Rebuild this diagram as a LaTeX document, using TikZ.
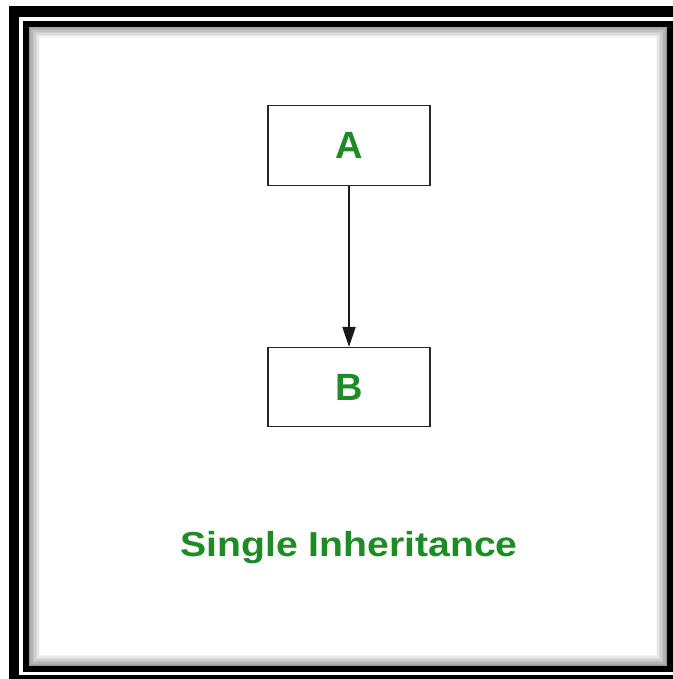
\documentclass[tikz,border=0pt]{standalone}
\usepackage{fontspec}
\setmainfont{Liberation Sans}
\newfontfamily\captionfont[FakeStretch=1.13]{Liberation Sans}
\usetikzlibrary{arrows.meta, positioning}
\definecolor{labelgreen}{HTML}{1E8B24}

\begin{document}
\begin{tikzpicture}[
    x=0.75pt, y=-0.75pt,
    node distance=120.75pt,
    >={Triangle[length=15pt, width=10pt]},
    % --- node styles ---
    classbox/.style={
        rectangle, draw=black!85, line width=0.9pt,
        minimum width=121.5pt, minimum height=59.5pt,
        fill=white, text=labelgreen, font=\fontsize{28.5}{32}\selectfont\bfseries
    },
    caption/.style={
        text=labelgreen, font=\captionfont\fontsize{26}{30}\selectfont\bfseries, inner sep=0pt
    },
    arrow/.style={->, line width=0.9pt, color=black!90},
]

% ===== CANVAS =====
\useasboundingbox (0,0) rectangle (673,679);
\clip (0,0) rectangle (673,679);
\fill[white] (0,0) rectangle (673,679);

% outer frame
\draw[line width=7.9pt] (14,11.5) rectangle (690,680.5);

% inner frame with soft shadow
\fill[white] (19.5,17) rectangle (673,675);
\foreach \i in {1,...,8}
    \draw[black!\the\numexpr 44-5*\i\relax, line width=1.2pt] (27.5+1.5*\i,25+1.5*\i) rectangle (668.5-1.5*\i,667.5-1.5*\i);
\draw[line width=4.5pt] (26,23.5) rectangle (670,669);

% ===== CLASSES =====
\node[classbox] (A) at (349,145.5) {A};
\node[classbox, below=of A] (B) {B};
\draw[arrow] (A) -- (B);

% ===== CAPTION =====
\node[caption, anchor=base, below=97pt of B.south, anchor=base] (title) {Single Inheritance};

\end{tikzpicture}
\end{document}
